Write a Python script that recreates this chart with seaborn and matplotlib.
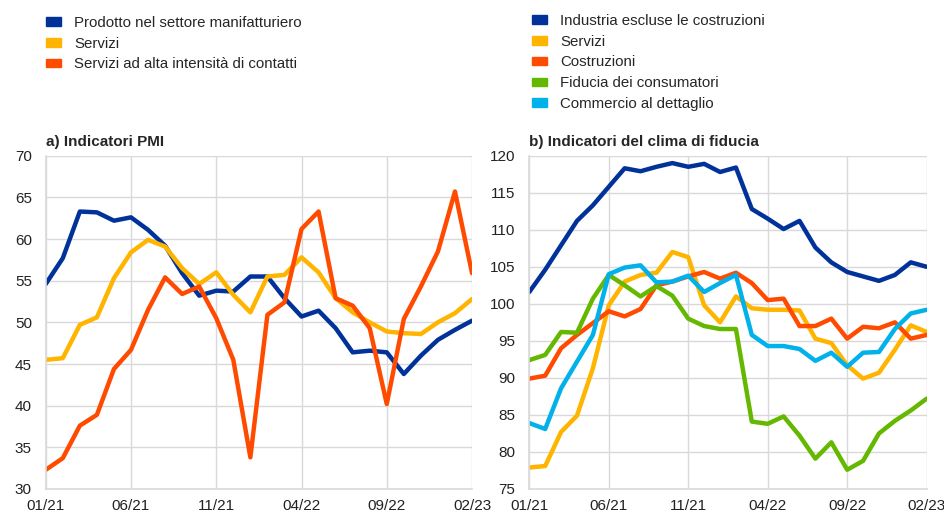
import matplotlib

matplotlib.use("Agg")
import matplotlib.pyplot as plt
import pandas as pd
import seaborn as sns
from matplotlib.patches import Patch

# monthly observations 01/21 .. 02/23
months = pd.period_range("2021-01", "2023-02", freq="M").strftime("%m/%y").tolist()
tick_labels = ["01/21", "06/21", "11/21", "04/22", "09/22", "02/23"]

# a) PMI indicators
pmi_manufacturing = [54.6, 57.7, 63.3, 63.2, 62.2, 62.6, 61.1, 59.2, 55.9, 53.2, 53.8, 53.7,
                     55.5, 55.5, 52.9, 50.7, 51.4, 49.3, 46.4, 46.6, 46.4, 43.8, 46.0, 47.9,
                     49.1, 50.2]
pmi_services = [45.5, 45.7, 49.7, 50.6, 55.3, 58.4, 59.9, 59.1, 56.5, 54.6, 56.0, 53.3,
                51.2, 55.5, 55.7, 57.8, 56.0, 52.9, 51.2, 50.0, 48.9, 48.7, 48.6, 50.0,
                51.1, 52.8]
pmi_contact = [32.3, 33.7, 37.6, 38.9, 44.4, 46.7, 51.5, 55.4, 53.4, 54.3, 50.5, 45.5,
               33.8, 50.9, 52.4, 61.2, 63.3, 52.9, 52.0, 49.3, 40.2, 50.4, 54.3, 58.5,
               65.7, 55.9]

# b) confidence indicators
conf_industry = [101.6, 104.6, 107.9, 111.2, 113.3, 115.8, 118.3, 117.9, 118.5, 119.0, 118.5, 118.9,
                 117.8, 118.4, 112.8, 111.5, 110.1, 111.2, 107.6, 105.6, 104.3, 103.7, 103.1, 103.9,
                 105.6, 105.0]
conf_services = [77.9, 78.1, 82.7, 84.9, 91.3, 99.8, 103.0, 103.9, 104.2, 107.0, 106.3, 99.8,
                 97.5, 101.0, 99.4, 99.2, 99.2, 99.1, 95.3, 94.7, 91.7, 89.9, 90.7, 93.8,
                 97.1, 96.2]
conf_construction = [89.9, 90.3, 94.0, 95.8, 97.4, 99.0, 98.3, 99.3, 102.5, 103.0, 103.7, 104.3,
                     103.4, 104.2, 102.8, 100.5, 100.7, 97.0, 97.0, 98.0, 95.3, 96.9, 96.7, 97.5,
                     95.3, 95.8]
conf_consumers = [92.4, 93.1, 96.2, 96.1, 100.7, 103.9, 102.5, 101.0, 102.4, 101.1, 98.0, 97.0,
                  96.6, 96.6, 84.1, 83.8, 84.8, 82.2, 79.1, 81.3, 77.6, 78.8, 82.5, 84.2,
                  85.6, 87.2]
conf_retail = [83.9, 83.1, 88.6, 92.2, 95.8, 104.0, 104.9, 105.2, 102.9, 103.0, 103.8, 101.6,
               102.8, 103.9, 95.8, 94.3, 94.3, 93.9, 92.3, 93.4, 91.5, 93.4, 93.5, 96.6,
               98.7, 99.2]

labels_a = ["Prodotto nel settore manifatturiero", "Servizi", "Servizi ad alta intensità di contatti"]
labels_b = ["Industria escluse le costruzioni", "Servizi", "Costruzioni",
            "Fiducia dei consumatori", "Commercio al dettaglio"]

DARK_BLUE = "#003299"
YELLOW = "#FFB400"
ORANGE = "#FF4B00"
GREEN = "#65B800"
LIGHT_BLUE = "#00B1EA"
GRID = "#d9d9d9"


def _long_frame(series: list[list[float]], names: list[str]) -> pd.DataFrame:
    frames = []
    for values, name in zip(series, names):
        frames.append(pd.DataFrame({"idx": range(len(months)), "month": months,
                                    "value": values, "series": name}))
    return pd.concat(frames, ignore_index=True)


def _style_axis(ax: plt.Axes, ylim: tuple[int, int], step: int, title: str) -> None:
    ax.set_xlim(0, len(months) - 1)
    ax.set_ylim(*ylim)
    ax.set_yticks(range(ylim[0], ylim[1] + 1, step))
    tick_pos = [months.index(t) for t in tick_labels]
    ax.set_xticks(tick_pos)
    ax.set_xticklabels(tick_labels)
    ax.grid(True, color=GRID, linewidth=1.0)
    ax.set_axisbelow(True)
    for side in ("top", "right"):
        ax.spines[side].set_visible(False)
    for side in ("left", "bottom"):
        ax.spines[side].set_color(GRID)
        ax.spines[side].set_linewidth(1.2)
    ax.tick_params(axis="y", length=0, labelsize=11, pad=10, colors="#222222")
    ax.tick_params(axis="x", length=0, labelsize=11, pad=7, colors="#222222")
    ax.set_xlabel("")
    ax.set_ylabel("")
    ax.set_title(title, loc="left", fontsize=11, fontweight="bold", pad=7)


def main() -> None:
    sns.set_theme(style="white")
    plt.rcParams["font.family"] = ["Liberation Sans", "DejaVu Sans"]

    fig = plt.figure(figsize=(9.45, 5.13), dpi=100)
    ax_a = fig.add_axes([0.0484, 0.0468, 0.4511, 0.6497])
    ax_b = fig.add_axes([0.5601, 0.0468, 0.4205, 0.6497])

    df_a = _long_frame([pmi_manufacturing, pmi_services, pmi_contact], labels_a)
    pal_a = dict(zip(labels_a, [DARK_BLUE, YELLOW, ORANGE]))
    sns.lineplot(data=df_a, x="idx", y="value", hue="series", palette=pal_a,
                 linewidth=3.2, legend=False, ax=ax_a)
    _style_axis(ax_a, (30, 70), 5, "a) Indicatori PMI")

    df_b = _long_frame([conf_industry, conf_services, conf_construction,
                        conf_consumers, conf_retail], labels_b)
    pal_b = dict(zip(labels_b, [DARK_BLUE, YELLOW, ORANGE, GREEN, LIGHT_BLUE]))
    sns.lineplot(data=df_b, x="idx", y="value", hue="series", palette=pal_b,
                 linewidth=3.2, legend=False, ax=ax_b)
    _style_axis(ax_b, (75, 120), 5, "b) Indicatori del clima di fiducia")

    legend_kw = dict(loc="upper left", frameon=False, fontsize=10.8, handlelength=1.0,
                     handleheight=0.5, handletextpad=0.9, labelspacing=0.45,
                     borderaxespad=0, borderpad=0)
    fig.legend(handles=[Patch(color=pal_a[l], label=l) for l in labels_a],
               bbox_to_anchor=(46 / 945, 1 - 16 / 513), **legend_kw)
    fig.legend(handles=[Patch(color=pal_b[l], label=l) for l in labels_b],
               bbox_to_anchor=(532 / 945, 1 - 14 / 513), **legend_kw)

    fig.savefig("out.png", dpi=100)
    plt.close(fig)


if __name__ == "__main__":
    main()
